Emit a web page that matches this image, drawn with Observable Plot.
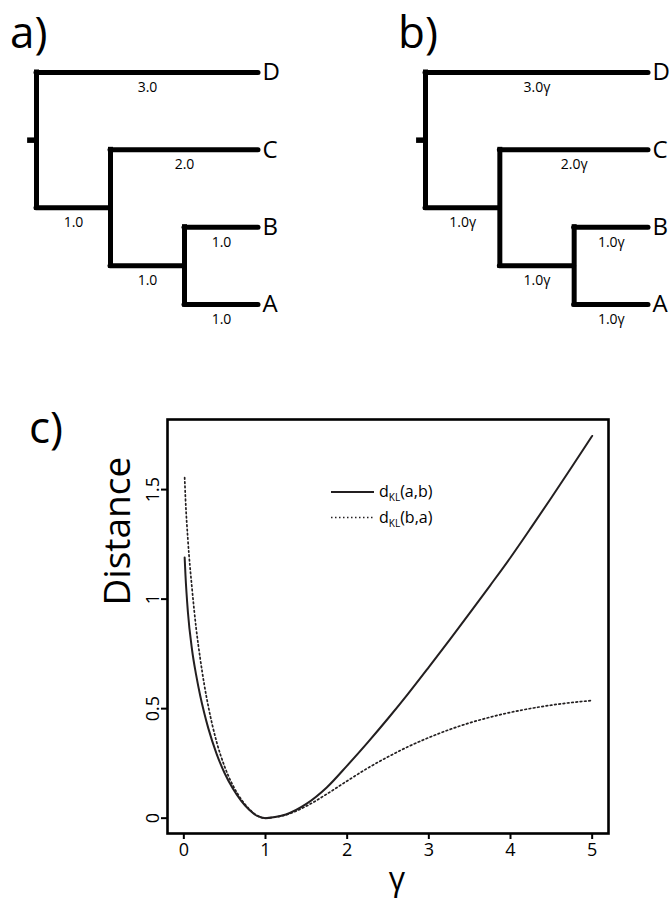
<!DOCTYPE html>
<html><head><meta charset="utf-8">
<script src="https://cdn.jsdelivr.net/npm/d3@7"></script>
<script src="https://cdn.jsdelivr.net/npm/@observablehq/plot@0.6"></script>
<style>
body{margin:0;background:#fff;font-family:"Open Sans",sans-serif;}
#root{position:relative;width:669px;height:913px;overflow:hidden;background:#fff;}
#root > svg, #root > div{position:absolute;}
</style></head><body><div id="root"></div>
<script>
// ---- Tree data (panels a and b) ----
const nodeIds = ["root", "n1", "n2", "D", "C", "B", "A"];
const nodeParents = [null, "root", "n1", "root", "n1", "n2", "n2"];
const branchLengths = [0, 1.0, 1.0, 3.0, 2.0, 1.0, 1.0];
const tipOrder = ["D", "C", "B", "A"];
const rootEdge = 0.12;
const panelLabels = ["a)", "b)", "c)"];
const branchSuffix = ["", "γ"];

// ---- Curve data (panel c) ----
const gamma = [0.01,0.02,0.05,0.1,0.15,0.2,0.25,0.3,0.4,0.5,0.6,0.7,0.8,0.9,1.0,1.1,1.25,1.5,1.75,2.0,2.25,2.5,2.75,3.0,3.25,3.5,3.75,4.0,4.25,4.5,4.75,5.0];
const dKLab = [1.19,1.11,0.94,0.77,0.655,0.56,0.48,0.41,0.295,0.205,0.135,0.08,0.038,0.01,0.0,0.004,0.017,0.065,0.14,0.24,0.345,0.455,0.57,0.69,0.812,0.936,1.062,1.19,1.325,1.463,1.603,1.745];
const dKLba = [1.555,1.46,1.27,1.05,0.87,0.73,0.61,0.51,0.35,0.235,0.15,0.088,0.042,0.011,0.0,0.004,0.015,0.055,0.11,0.17,0.228,0.28,0.327,0.368,0.404,0.435,0.461,0.483,0.501,0.516,0.528,0.537];
const xTicks = [0, 1, 2, 3, 4, 5];
const yTicks = [0, 0.5, 1, 1.5];
const seriesArgs = ["(a,b)", "(b,a)"];
const xLabel = "γ";
const yLabel = "Distance";

const INK = "#000";
const CURVE = "#231f20";
const root = document.getElementById("root");

// ---- Tree layout computed from the branch lengths ----
function layoutTree() {
  const nodes = nodeIds.map((id, i) => ({id, parent: nodeParents[i], len: branchLengths[i]}));
  const byId = new Map(nodes.map(n => [n.id, n]));
  nodes.forEach(n => n.children = nodes.filter(c => c.parent === n.id));
  const depth = n => n.parent ? depth(byId.get(n.parent)) + n.len : 0;
  const yOf = n => n.children.length ? d3.mean(n.children, yOf) : tipOrder.indexOf(n.id);
  nodes.forEach(n => { n.x = depth(n); n.y = yOf(n); });
  nodes.forEach(n => { n.px = n.parent ? byId.get(n.parent).x : -rootEdge; });
  nodes.forEach(n => {
    if (n.children.length) { n.y1 = d3.min(n.children, c => c.y); n.y2 = d3.max(n.children, c => c.y); }
  });
  return nodes;
}
const treeNodes = layoutTree();
const maxDepth = d3.max(treeNodes, d => d.x);

function treePlot(suffix, width, marginRight) {
  const internal = treeNodes.filter(d => d.children.length);
  const edges = treeNodes.filter(d => d.parent);
  const rootN = treeNodes.filter(d => !d.parent);
  const tips = treeNodes.filter(d => !d.children.length);
  return Plot.plot({
    width, height: 330,
    marginLeft: 36, marginRight, marginTop: 72, marginBottom: 26,
    x: {domain: [0, maxDepth], axis: null},
    y: {domain: [0, tipOrder.length - 1], reverse: true, axis: null},
    style: {fontFamily: "Open Sans", color: INK, background: "transparent", overflow: "visible"},
    marks: [
      Plot.ruleX(internal, {x: "x", y1: "y1", y2: "y2", stroke: INK, strokeWidth: 5, strokeLinecap: "square"}),
      Plot.ruleY(edges, {x1: "px", x2: "x", y: "y", stroke: INK, strokeWidth: 5, strokeLinecap: "round"}),
      Plot.ruleY(rootN, {x1: "px", x2: "x", y: "y", stroke: INK, strokeWidth: 5.5, strokeLinecap: "butt"}),
      Plot.text(edges, {x: d => (d.px + d.x) / 2, y: "y", text: d => d.len.toFixed(1) + suffix, dy: 15, fontSize: 14, fill: INK}),
      Plot.text(tips, {x: "x", y: "y", text: "id", dx: 4, textAnchor: "start", fontSize: 24, fill: INK})
    ]
  });
}

const ta = treePlot(branchSuffix[0], 335, 77);
ta.style.left = "0px"; ta.style.top = "0px";
root.appendChild(ta);
const tb = treePlot(branchSuffix[1], 280, 21);
tb.style.left = "389px"; tb.style.top = "0px";
root.appendChild(tb);

// ---- Line chart (panel c) ----
const abData = gamma.map((g, i) => ({g, d: dKLab[i]}));
const baData = gamma.map((g, i) => ({g, d: dKLba[i]}));
const chart = Plot.plot({
  width: 669, height: 533,
  marginLeft: 167, marginRight: 61, marginTop: 39, marginBottom: 80,
  x: {domain: [-0.2, 5.2]},
  y: {domain: [-0.07, 1.82]},
  style: {fontFamily: "Open Sans", fontSize: "18px", color: INK, background: "transparent", overflow: "visible"},
  marks: [
    Plot.axisX({ticks: xTicks, tickSize: 6, tickPadding: 4, tickFormat: d => String(d), label: null, strokeWidth: 2, fontSize: 18}),
    Plot.axisY({ticks: yTicks, tickSize: 6, tickPadding: 3, tickRotate: -90, tickFormat: d => String(d), label: null, strokeWidth: 2, fontSize: 18}),
    Plot.frame({stroke: INK, strokeWidth: 2.6}),
    Plot.line(abData, {x: "g", y: "d", stroke: CURVE, strokeWidth: 2, curve: "monotone-x"}),
    Plot.line(baData, {x: "g", y: "d", stroke: CURVE, strokeWidth: 1.7, strokeDasharray: "1.6,2.7", curve: "monotone-x"}),
    Plot.text([yLabel], {text: d => d, frameAnchor: "left", dx: -49, dy: -21, rotate: -90, fontSize: 37, fill: INK}),
    Plot.text([xLabel], {text: d => d, frameAnchor: "bottom", dx: 9, dy: 56, fontSize: 32, fill: INK})
  ]
});
chart.style.left = "0px"; chart.style.top = "380px";
root.appendChild(chart);

// ---- Overlay: panel letters and legend ----
const ov = d3.select(root).append("svg")
  .attr("width", 669).attr("height", 913)
  .style("left", "0px").style("top", "0px")
  .style("pointer-events", "none")
  .attr("font-family", "Open Sans");

const panelPos = [[10, 48], [398, 48], [29, 443]];
ov.selectAll("text.panel").data(panelLabels).join("text")
  .attr("class", "panel")
  .attr("x", (d, i) => panelPos[i][0]).attr("y", (d, i) => panelPos[i][1])
  .attr("font-size", 44).attr("fill", INK).text(d => d);

const leg = ov.append("g").attr("transform", "translate(331,0)");
const legRows = seriesArgs.map((s, i) => ({s, i}));
leg.selectAll("line").data(legRows).join("line")
  .attr("x1", 0).attr("x2", 43)
  .attr("y1", d => 492 + d.i * 25.5).attr("y2", d => 492 + d.i * 25.5)
  .attr("stroke", CURVE)
  .attr("stroke-width", d => d.i ? 1.5 : 2)
  .attr("stroke-dasharray", d => d.i ? "1.5,2.5" : null);
const lt = leg.selectAll("text").data(legRows).join("text")
  .attr("x", 48).attr("y", d => 497 + d.i * 25.5)
  .attr("font-size", 16).attr("fill", INK);
lt.append("tspan").text("d");
lt.append("tspan").attr("font-size", 10).attr("dy", 4).text("KL");
lt.append("tspan").attr("dy", -4).text(d => d.s);
</script>
</body></html>
